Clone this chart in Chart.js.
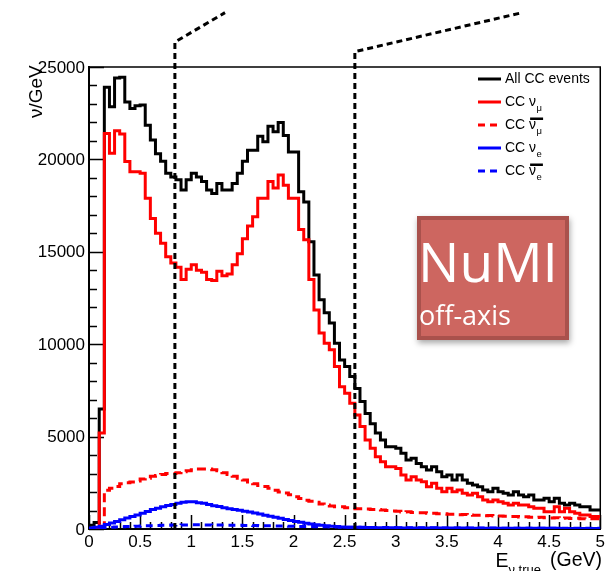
<!DOCTYPE html>
<html>
<head>
<meta charset="utf-8">
<script src="https://cdn.jsdelivr.net/npm/chart.js@4.4.1/dist/chart.umd.min.js"></script>
<style>
html, body { margin: 0; padding: 0; background: #fff; }
#wrap { width: 608px; height: 571px; }
</style>
</head>
<body>
<div id="wrap"><canvas id="cc" width="608" height="571"></canvas></div>
<script>
// histogram bins: 100 bins of 0.05 GeV from 0 to 5 GeV
const BIN_WIDTH = 0.05;

const allCC = [
  100, 200, 350, 6500, 23900, 22850, 24400, 24450, 23100, 22750,
  22900, 22950, 21850, 21050, 20300, 19900, 19250, 19050, 18900, 18350,
  18900, 19250, 19050, 18800, 18350, 18150, 18700, 18350, 18350, 18700,
  19250, 19900, 20500, 20500, 21250, 20950, 21800, 21500, 22000, 21300,
  20400, 20400, 18250, 17700, 15550, 13750, 12400, 11700, 11150, 10050,
  9150, 8800, 8250, 7600, 6900, 6250, 5700, 5200, 4820, 4450,
  4450, 4370, 4100, 3730, 3830, 3550, 3370, 3190, 3370, 3100,
  2830, 2920, 2650, 2920, 2650, 2470, 2380, 2290, 2110, 2020,
  2200, 2020, 1930, 1840, 2020, 1840, 1750, 1840, 1570, 1570,
  1660, 1480, 1660, 1390, 1300, 1390, 1300, 1210, 1210, 1030
];

const numuCC = [
  0, 0, 0, 5200, 21400, 20330, 21550, 21370, 19880, 19330,
  19330, 19250, 17900, 16800, 16000, 15460, 14730, 14400, 14160, 13500,
  14050, 14300, 14000, 13900, 13500, 13450, 13950, 13700, 13800, 14300,
  14900, 15700, 16400, 16900, 17900, 17900, 18800, 18450, 19150, 18600,
  17900, 17900, 16200, 15650, 13500, 11850, 10600, 10050, 9700, 8800,
  7700, 7350, 6800, 6170, 5540, 4820, 4370, 3910, 3640, 3370,
  3370, 3280, 2920, 2650, 2830, 2650, 2560, 2290, 2470, 2200,
  2020, 2200, 2020, 2110, 1930, 1840, 1930, 1750, 1570, 1480,
  1570, 1480, 1390, 1300, 1390, 1300, 1300, 1210, 1120, 1120,
  940, 940, 1210, 940, 1120, 940, 850, 760, 760, 670
];

const anumuCC = [
  0, 0, 0, 0, 2100, 2200, 2300, 2450, 2500, 2550,
  2600, 2700, 2750, 2850, 2900, 2950, 3000, 3000, 3050, 3100,
  3150, 3200, 3250, 3250, 3250, 3200, 3150, 3050, 2950, 2850,
  2750, 2650, 2550, 2450, 2350, 2300, 2200, 2100, 2000, 1950,
  1850, 1750, 1650, 1550, 1500, 1450, 1350, 1300, 1250, 1200,
  1200, 1150, 1150, 1100, 1100, 1080, 1050, 1050, 1030, 1000,
  980, 960, 920, 930, 890, 880, 880, 850, 850, 820,
  820, 800, 800, 770, 780, 760, 740, 750, 720, 730,
  700, 710, 690, 670, 680, 650, 660, 640, 620, 640,
  610, 600, 610, 580, 590, 570, 580, 560, 550, 560
];

const nueCC = [
  20, 50, 100, 150, 250, 320, 400, 500, 600, 680,
  760, 850, 950, 1050, 1120, 1200, 1270, 1330, 1400, 1450,
  1480, 1470, 1420, 1400, 1330, 1260, 1220, 1150, 1100, 1050,
  1020, 960, 920, 860, 810, 750, 690, 640, 580, 520,
  460, 410, 360, 310, 270, 230, 200, 170, 150, 130,
  110, 100, 95, 90, 85, 80, 75, 70, 68, 65,
  62, 60, 60, 58, 58, 56, 55, 55, 54, 52,
  52, 50, 50, 48, 48, 47, 46, 45, 44, 43,
  42, 42, 41, 40, 40, 39, 38, 37, 36, 36,
  35, 35, 34, 33, 33, 32, 32, 31, 30, 30
];

const anueCC = [
  0, 20, 40, 60, 80, 100, 110, 120, 130, 140,
  150, 160, 170, 180, 190, 200, 205, 210, 215, 220,
  220, 225, 225, 220, 220, 215, 215, 210, 205, 200,
  200, 195, 190, 185, 180, 175, 170, 165, 160, 155,
  150, 145, 140, 135, 130, 125, 120, 115, 110, 105,
  100, 98, 95, 92, 90, 88, 85, 82, 80, 78,
  76, 74, 72, 70, 68, 66, 64, 62, 61, 60,
  58, 57, 56, 55, 54, 53, 52, 51, 50, 49,
  48, 47, 46, 46, 45, 44, 44, 43, 42, 42,
  41, 41, 40, 40, 40, 39, 39, 38, 38, 38
];

const xTickLabels = ['0', '0.5', '1', '1.5', '2', '2.5', '3', '3.5', '4', '4.5', '5'];

// energy window markers (GeV) with their slanted lead-out lines
const markers = [
  { x: 0.84, yTop: 26350, x2: 1.33, y2: 27940 },
  { x: 2.6, yTop: 25830, x2: 4.235, y2: 27940 }
];

const FONT = '"Liberation Sans", Arial, Helvetica, sans-serif';

function histPoints(vals) {
  const pts = vals.map((v, i) => ({ x: i * BIN_WIDTH, y: v }));
  pts.push({ x: vals.length * BIN_WIDTH, y: vals[vals.length - 1] });
  return pts;
}

const series = [
  { label: 'All CC events', vals: allCC, color: '#000000', dash: [], sym: null },
  { label: 'CC \u03BD\u03BC', vals: numuCC, color: '#ff0000', dash: [], sym: { sub: '\u03BC', bar: false } },
  { label: 'CC anti-\u03BD\u03BC', vals: anumuCC, color: '#ff0000', dash: [9, 5], sym: { sub: '\u03BC', bar: true } },
  { label: 'CC \u03BDe', vals: nueCC, color: '#0000ff', dash: [], sym: { sub: 'e', bar: false } },
  { label: 'CC anti-\u03BDe', vals: anueCC, color: '#0000ff', dash: [7, 5], sym: { sub: 'e', bar: true } }
];

const decor = {
  id: 'rootDecor',
  beforeDatasetsDraw(chart) {
    const ctx = chart.ctx;
    const a = chart.chartArea;
    const xs = chart.scales.x, ys = chart.scales.y;
    ctx.save();
    ctx.strokeStyle = '#000';
    // frame top/right
    ctx.lineWidth = 1.5;
    ctx.beginPath();
    ctx.moveTo(a.left, a.top); ctx.lineTo(a.right, a.top); ctx.lineTo(a.right, a.bottom);
    ctx.stroke();
    // inward ticks
    ctx.lineWidth = 1.5;
    ctx.beginPath();
    for (let k = 0; k <= 25; k++) {
      const py = Math.round(ys.getPixelForValue(k * 1000)) + 0.5;
      const len = (k % 5 === 0) ? 15 : 8;
      ctx.moveTo(a.left, py); ctx.lineTo(a.left + len, py);
    }
    for (let k = 0; k <= 50; k++) {
      const px = Math.round(xs.getPixelForValue(k / 10)) + 0.5;
      const len = (k % 5 === 0) ? 14 : 7;
      ctx.moveTo(px, a.bottom); ctx.lineTo(px, a.bottom - len);
    }
    ctx.stroke();
    ctx.restore();
  },
  afterDraw(chart) {
    const ctx = chart.ctx;
    const xs = chart.scales.x, ys = chart.scales.y;
    ctx.save();

    // axis titles
    ctx.fillStyle = '#000';
    ctx.textBaseline = 'alphabetic';
    ctx.save();
    ctx.translate(42, 118);
    ctx.rotate(-Math.PI / 2);
    ctx.font = '19px ' + FONT;
    ctx.textAlign = 'left';
    ctx.fillText('\u03BD/GeV', 0, 0);
    ctx.restore();

    ctx.textAlign = 'left';
    ctx.font = '19.5px ' + FONT;
    ctx.fillText('E', 495.5, 567);
    ctx.font = '13px ' + FONT;
    ctx.fillText('\u03BD true', 508.5, 574);
    ctx.font = '19.5px ' + FONT;
    ctx.textAlign = 'right';
    ctx.fillText('(GeV)', 602, 566);

    // energy window markers
    ctx.strokeStyle = '#000';
    ctx.lineWidth = 3;
    ctx.setLineDash([6, 4]);
    markers.forEach(m => {
      ctx.beginPath();
      ctx.moveTo(xs.getPixelForValue(m.x), ys.getPixelForValue(0));
      ctx.lineTo(xs.getPixelForValue(m.x), ys.getPixelForValue(m.yTop));
      ctx.lineTo(xs.getPixelForValue(m.x2), ys.getPixelForValue(m.y2));
      ctx.stroke();
    });
    ctx.setLineDash([]);

    // legend
    const rowY = [79, 102, 125, 148, 171];
    series.forEach((s, i) => {
      const y = rowY[i];
      ctx.strokeStyle = s.color;
      ctx.lineWidth = 3;
      ctx.setLineDash(s.dash.length ? [7, 5] : []);
      ctx.beginPath();
      ctx.moveTo(478, y); ctx.lineTo(501, y);
      ctx.stroke();
      ctx.setLineDash([]);
      ctx.fillStyle = '#000';
      ctx.textAlign = 'left';
      ctx.textBaseline = 'middle';
      ctx.font = '14px ' + FONT;
      if (!s.sym) {
        ctx.fillText(s.label, 505, y);
        return;
      }
      ctx.fillText('CC ', 505, y);
      const x0 = 505 + ctx.measureText('CC ').width;
      ctx.fillText('\u03BD', x0, y);
      const x1 = x0 + ctx.measureText('\u03BD').width;
      ctx.font = '9.5px ' + FONT;
      ctx.fillText(s.sym.sub, x1 + 0.5, y + 6.5);
      const x2 = x1 + 0.5 + ctx.measureText(s.sym.sub).width;
      if (s.sym.bar) {
        ctx.fillRect(x0 + 1, y - 7.5, x2 - x0, 2.5);
      }
    });

    // NuMI off-axis box
    ctx.save();
    ctx.shadowColor = 'rgba(0,0,0,0.35)';
    ctx.shadowBlur = 6;
    ctx.shadowOffsetX = 1;
    ctx.shadowOffsetY = 3;
    ctx.fillStyle = '#cd6660';
    ctx.fillRect(417, 216, 152, 124);
    ctx.restore();
    ctx.strokeStyle = '#a9514c';
    ctx.lineWidth = 4;
    ctx.strokeRect(419, 218, 148, 120);
    ctx.fillStyle = '#ffffff';
    ctx.textAlign = 'left';
    ctx.textBaseline = 'alphabetic';
    ctx.font = '55px "Open Sans", Lato, sans-serif';
    ctx.fillText('NuMI', 418, 282);
    ctx.font = '27px "Open Sans", Lato, sans-serif';
    ctx.fillText('off-axis', 419, 325);

    ctx.restore();
  }
};

new Chart(document.getElementById('cc'), {
  type: 'line',
  data: {
    datasets: series.map((s, i) => ({
      label: s.label,
      data: histPoints(s.vals),
      borderColor: s.color,
      borderDash: s.dash,
      borderWidth: 3,
      pointRadius: 0,
      fill: false,
      stepped: 'after',
      tension: 0,
      order: series.length - i
    }))
  },
  options: {
    responsive: false,
    animation: false,
    devicePixelRatio: 1,
    layout: { padding: { top: 67, right: 5, left: 0, bottom: 0 } },
    plugins: { legend: { display: false }, tooltip: { enabled: false } },
    scales: {
      x: {
        type: 'linear',
        min: 0, max: 5,
        afterFit: s => { s.height = 42; },
        grid: { display: false, drawTicks: false },
        border: { display: true, color: '#000', width: 2 },
        ticks: {
          stepSize: 0.5,
          padding: 3,
          color: '#000',
          font: { family: FONT, size: 17 },
          maxRotation: 0,
          autoSkip: false,
          callback: (v, i) => xTickLabels[i]
        }
      },
      y: {
        min: 0, max: 25000,
        afterFit: s => { s.width = 89; },
        grid: { display: false, drawTicks: false },
        border: { display: true, color: '#000', width: 2 },
        ticks: {
          stepSize: 5000,
          padding: 4,
          color: '#000',
          labelOffset: 1,
          font: { family: FONT, size: 17 },
          callback: v => String(v)
        }
      }
    }
  },
  plugins: [decor]
});
</script>
</body>
</html>
